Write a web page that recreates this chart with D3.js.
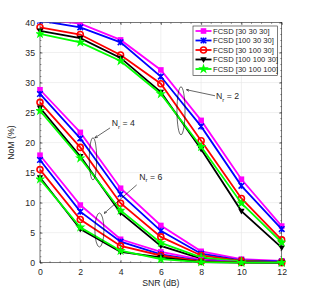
<!DOCTYPE html>
<html>
<head>
<meta charset="utf-8">
<script src="https://cdn.jsdelivr.net/npm/d3@7"></script>
<style>
  body { margin: 0; background: #fff; }
  text { font-family: "Liberation Sans", Arial, sans-serif; fill: #262626; }
</style>
</head>
<body>
<div id="graph"></div>
<script>
// values
let snr = [0, 2, 4, 6, 8, 10, 12];
let seriesNames = ["FCSD [30 30 30]", "FCSD [100 30 30]", "FCSD [30 100 30]", "FCSD [100 100 30]", "FCSD [30 100 100]"];
let seriesColors = ["#ff00ff", "#0000ff", "#ff0000", "#000000", "#00ff00"];
let seriesMarkers = ["square", "cross", "circle", "triangle", "star"];

// Nr = 2
let nr2 = [
  [40.6, 39.8, 37.1, 32.1, 23.7, 13.9, 6.1],
  [40.3, 39.2, 36.7, 31.0, 22.7, 12.8, 5.6],
  [39.2, 38.0, 34.6, 29.8, 20.3, 10.7, 3.8],
  [38.6, 37.4, 34.1, 28.4, 18.9, 8.6, 2.5],
  [38.1, 36.7, 33.6, 28.1, 19.3, 9.9, 3.4]
];
// Nr = 4
let nr4 = [
  [28.8, 21.7, 12.4, 6.2, 1.9, 0.6, 0.3],
  [28.1, 20.7, 11.4, 5.3, 1.5, 0.4, 0.2],
  [26.7, 19.2, 9.9, 4.3, 1.2, 0.3, 0.1],
  [25.8, 17.7, 8.3, 2.8, 0.7, 0.2, 0.1],
  [25.3, 17.4, 8.7, 3.3, 0.9, 0.2, 0.1]
];
// Nr = 6
let nr6 = [
  [17.9, 9.6, 3.9, 1.8, 0.5, 0.1, 0.05],
  [17.1, 8.5, 3.5, 1.4, 0.3, 0.1, 0.0],
  [15.5, 7.2, 2.8, 1.2, 0.2, 0.05, 0.0],
  [14.2, 5.6, 1.8, 0.9, 0.1, 0.0, 0.0],
  [13.9, 5.9, 2.0, 0.6, 0.1, 0.0, 0.0]
];
let xTicks = [0, 2, 4, 6, 8, 10, 12];
let yTicks = [0, 5, 10, 15, 20, 25, 30, 35, 40];

// annotations (data coordinates)
let groupNotes = [
  { label: "2", tx: 8.74, ty: 27.2, ax: 8.69, ay: 27.8, bx: 7.28, by: 28.8, ex: 7.0, ey: 25.3, erx: 0.2, ery: 4.0 },
  { label: "4", tx: 3.56, ty: 22.7, ax: 3.48, ay: 22.45, bx: 2.73, by: 20.8, ex: 2.63, ey: 17.3, erx: 0.185, ery: 3.5 },
  { label: "6", tx: 4.93, ty: 13.8, ax: 4.8, ay: 12.95, bx: 3.19, by: 8.23, ex: 2.95, ey: 5.45, erx: 0.225, ery: 2.83 }
];

let W = 311, H = 295;
let margin = { left: 40, top: 22.5, right: 29.3, bottom: 32.3 };
let iw = W - margin.left - margin.right;
let ih = H - margin.top - margin.bottom;

let svg = d3.select("#graph").append("svg").attr("width", W).attr("height", H);
let g = svg.append("g").attr("transform", "translate(" + margin.left + "," + margin.top + ")");

let x = d3.scaleLinear().domain([0, 12]).range([0, iw]);
let y = d3.scaleLinear().domain([0, 40]).range([ih, 0]);

// grid
g.append("g").selectAll("line").data(xTicks).join("line")
  .attr("x1", d => x(d)).attr("x2", d => x(d)).attr("y1", 0).attr("y2", ih)
  .attr("stroke", "#e6e6e6").attr("stroke-width", 0.6);
g.append("g").selectAll("line").data(yTicks).join("line")
  .attr("y1", d => y(d)).attr("y2", d => y(d)).attr("x1", 0).attr("x2", iw)
  .attr("stroke", "#e6e6e6").attr("stroke-width", 0.6);

// axes
let axisColor = "#262626";
let styleAxis = function(sel) {
  sel.select(".domain").remove();
  sel.selectAll(".tick line").attr("stroke", axisColor).attr("stroke-width", 0.6);
  sel.selectAll(".tick text").style("font-size", "8.7px").attr("fill", "#333");
};
g.append("g").attr("transform", "translate(0," + ih + ")")
  .call(d3.axisBottom(x).tickValues(xTicks).tickSize(-2.5).tickPadding(6))
  .call(styleAxis);
g.append("g")
  .call(d3.axisLeft(y).tickValues(yTicks).tickSize(-2.5).tickPadding(5))
  .call(styleAxis);
g.append("g")
  .call(d3.axisTop(x).tickValues(xTicks).tickSize(-2.5).tickFormat(""))
  .call(styleAxis);
g.append("g").attr("transform", "translate(" + iw + ",0)")
  .call(d3.axisRight(y).tickValues(yTicks).tickSize(-2.5).tickFormat(""))
  .call(styleAxis);

// minor ticks
let xMinor = d3.range(0, 12.01, 0.5);
let yMinor = d3.range(0, 40.01, 1);
let minor = g.append("g").attr("stroke", axisColor).attr("stroke-width", 0.5);
minor.selectAll(".mxb").data(xMinor).join("line").attr("class", "mxb")
  .attr("x1", d => x(d)).attr("x2", d => x(d)).attr("y1", ih).attr("y2", ih - 1.4);
minor.selectAll(".mxt").data(xMinor).join("line").attr("class", "mxt")
  .attr("x1", d => x(d)).attr("x2", d => x(d)).attr("y1", 0).attr("y2", 1.4);
minor.selectAll(".myl").data(yMinor).join("line").attr("class", "myl")
  .attr("y1", d => y(d)).attr("y2", d => y(d)).attr("x1", 0).attr("x2", 1.4);
minor.selectAll(".myr").data(yMinor).join("line").attr("class", "myr")
  .attr("y1", d => y(d)).attr("y2", d => y(d)).attr("x1", iw).attr("x2", iw - 1.4);

// box
g.append("rect").attr("width", iw).attr("height", ih)
  .attr("fill", "none").attr("stroke", axisColor).attr("stroke-width", 0.6);

// clip
svg.append("defs").append("clipPath").attr("id", "clip")
  .append("rect").attr("x", -4).attr("y", 0).attr("width", iw + 8).attr("height", ih + 6);

let plot = g.append("g").attr("clip-path", "url(#clip)");
let line = d3.line().x((d, i) => x(snr[i])).y(d => y(d));

let drawMarker = function(sel, kind, color) {
  if (kind === "square") {
    sel.append("rect").attr("x", -2.8).attr("y", -2.8).attr("width", 5.6).attr("height", 5.6).attr("fill", color);
  } else if (kind === "cross") {
    sel.append("path").attr("d", "M-2.8,-2.8L2.8,2.8M-2.8,2.8L2.8,-2.8M0,-3L0,3")
      .attr("stroke", color).attr("stroke-width", 1.5).attr("fill", "none");
  } else if (kind === "circle") {
    sel.append("circle").attr("r", 3).attr("fill", "none").attr("stroke", color).attr("stroke-width", 1.6);
  } else if (kind === "triangle") {
    sel.append("path").attr("d", "M-3.2,-2.3L3.2,-2.3L0,3.4Z").attr("fill", color);
  } else if (kind === "star") {
    sel.append("path").attr("d", d3.symbol(d3.symbolStar, 34)()).attr("fill", color);
  }
};

[nr2, nr4, nr6].forEach(function(group) {
  group.forEach(function(vals, si) {
    plot.append("path").datum(vals)
      .attr("d", line).attr("fill", "none")
      .attr("stroke", seriesColors[si]).attr("stroke-width", 1.8);
    let m = plot.append("g").selectAll("g").data(vals).join("g")
      .attr("transform", (d, i) => "translate(" + x(snr[i]) + "," + y(d) + ")");
    drawMarker(m, seriesMarkers[si], seriesColors[si]);
  });
});

// annotations
svg.append("defs").append("marker").attr("id", "arrow")
  .attr("viewBox", "0 0 10 10").attr("refX", 9).attr("refY", 5)
  .attr("markerWidth", 5).attr("markerHeight", 5).attr("orient", "auto")
  .append("path").attr("d", "M0,1L10,5L0,9").attr("fill", "none").attr("stroke", "#000").attr("stroke-width", 1.6);

let notes = g.append("g");
groupNotes.forEach(function(n) {
  notes.append("ellipse")
    .attr("cx", x(n.ex)).attr("cy", y(n.ey))
    .attr("rx", x(n.erx) - x(0)).attr("ry", y(0) - y(n.ery))
    .attr("fill", "none").attr("stroke", "#000").attr("stroke-width", 0.6);
  notes.append("line")
    .attr("x1", x(n.ax)).attr("y1", y(n.ay)).attr("x2", x(n.bx)).attr("y2", y(n.by))
    .attr("stroke", "#000").attr("stroke-width", 0.6).attr("marker-end", "url(#arrow)");
  let t = notes.append("text").attr("x", x(n.tx)).attr("y", y(n.ty))
    .style("font-size", "8.7px").attr("fill", "#000");
  t.append("tspan").text("N");
  t.append("tspan").attr("dy", 2.5).style("font-size", "6px").text("r");
  t.append("tspan").attr("dy", -2.5).text(" = " + n.label);
});

// legend
let lg = g.append("g").attr("transform", "translate(" + (193 - margin.left) + "," + (26 - margin.top) + ")");
lg.append("rect").attr("width", 84.5).attr("height", 49.5)
  .attr("fill", "#fff").attr("stroke", axisColor).attr("stroke-width", 0.6);
seriesNames.forEach(function(name, i) {
  let row = lg.append("g").attr("transform", "translate(0," + (5 + i * 9.5) + ")");
  row.append("line").attr("x1", 2.5).attr("x2", 18.5).attr("y1", 0).attr("y2", 0)
    .attr("stroke", seriesColors[i]).attr("stroke-width", 1.8);
  let mk = row.append("g").attr("transform", "translate(10.5,0)");
  drawMarker(mk, seriesMarkers[i], seriesColors[i]);
  row.append("text").attr("x", 20).attr("y", 2.7).style("font-size", "7.6px").text(name);
});

// axis labels
svg.append("text").attr("x", margin.left + iw / 2).attr("y", 285.5)
  .attr("text-anchor", "middle").style("font-size", "8.7px").text("SNR (dB)");
svg.append("text").attr("transform", "translate(14," + (margin.top + ih / 2) + ") rotate(-90)")
  .attr("text-anchor", "middle").style("font-size", "8.7px").text("NoM (%)");
</script>
</body>
</html>
